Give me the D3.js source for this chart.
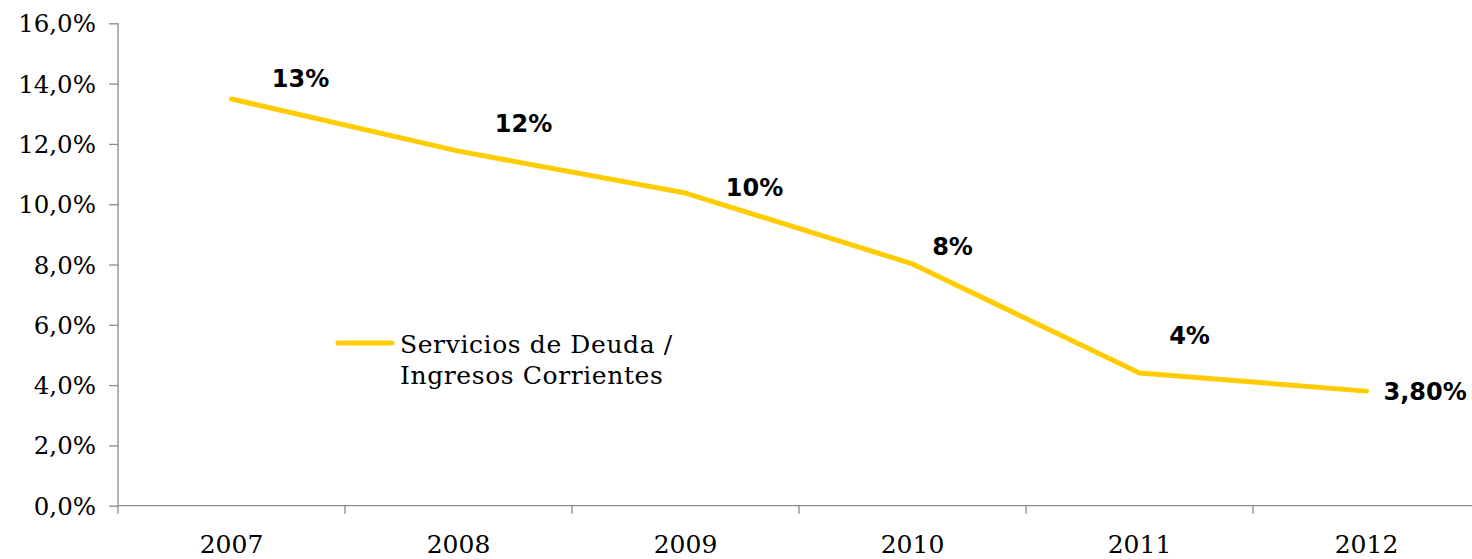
<!DOCTYPE html>
<html><head><meta charset="utf-8">
<script src="https://cdn.jsdelivr.net/npm/d3@7"></script>
<style>body{margin:0;background:#fff}svg{display:block}</style>
</head><body>
<svg id="c" width="1472" height="559"></svg>
<script>
const years = ["2007","2008","2009","2010","2011","2012"];
const values = [13.49, 11.76, 10.37, 8.02, 4.4, 3.8];
const labels = ["13%","12%","10%","8%","4%","3,80%"];
const yTicks = [0,2,4,6,8,10,12,14,16];
const seriesName = ["Servicios de Deuda /","Ingresos Corrientes"];

// label placement (style, not data)
const labelDx = [69, 65, 69, 40, 50, 17];
const labelDy = [-20, -28, -5, -17, -37, 0];
const labelAnchor = ["middle","middle","middle","middle","middle","start"];

const svg = d3.select("#c");
const serif = "'DejaVu Serif', serif";
const sans = "'DejaVu Sans', sans-serif";
const x = d3.scaleBand().domain(years).range([118, 1480]).padding(0);
const y = d3.scaleLinear().domain([0,16]).range([505.7, 23.3]);

// y axis
const ya = svg.append("g").attr("transform","translate(118,0)")
  .call(d3.axisLeft(y).tickValues(yTicks).tickSize(9).tickPadding(13)
        .tickFormat(d => d3.format(".1f")(d).replace(".",",") + "%"));
ya.selectAll("path,line").attr("stroke","#8c8c8c").attr("stroke-width",1.3);
ya.select(".domain").attr("d","M0,"+y(16)+"V"+y(0));
ya.selectAll("text").attr("font-family",serif).attr("font-size",24.5).attr("fill","#000").attr("dy","0.35em");

// x axis
const xa = svg.append("g").attr("transform","translate(0,"+y(0)+")")
  .call(d3.axisBottom(x).tickSize(0).tickPadding(30));
xa.select(".domain").attr("stroke","#8c8c8c").attr("stroke-width",1.3).attr("d","M118,0H1480");
xa.selectAll("text").attr("font-family",serif).attr("font-size",25).attr("fill","#000");
const bounds = years.map(d => x(d)).concat([x(years[years.length-1]) + x.bandwidth()]);
xa.selectAll(".sep").data(bounds).enter().append("line")
  .attr("x1",d=>d).attr("x2",d=>d).attr("y1",0).attr("y2",8)
  .attr("stroke","#8c8c8c").attr("stroke-width",1.3);

// line
const cx = d => x(d) + x.bandwidth()/2;
const line = d3.line().x((d,i)=>cx(years[i])).y(d=>y(d));
svg.append("path").datum(values).attr("d",line).attr("fill","none")
  .attr("stroke","#FFCC00").attr("stroke-width",5).attr("stroke-linecap","round").attr("stroke-linejoin","round");

// data labels
svg.selectAll(".lbl").data(values).enter().append("text")
  .attr("x",(d,i)=>cx(years[i]) + labelDx[i])
  .attr("y",(d,i)=>y(d) + labelDy[i])
  .attr("dy","0.35em")
  .attr("text-anchor",(d,i)=>labelAnchor[i])
  .attr("font-family",sans).attr("font-weight","bold").attr("font-size",24).attr("fill","#000")
  .text((d,i)=>labels[i]);

// legend
const lg = svg.append("g");
lg.append("line").attr("x1",338).attr("x2",392).attr("y1",343).attr("y2",343)
  .attr("stroke","#FFCC00").attr("stroke-width",5).attr("stroke-linecap","round");
lg.selectAll("text").data(seriesName).enter().append("text")
  .attr("x",400).attr("y",(d,i)=>353 + i*31)
  .attr("font-family",serif).attr("font-size",25).attr("letter-spacing",0.6).attr("fill","#000").text(d=>d);
</script>
</body></html>
